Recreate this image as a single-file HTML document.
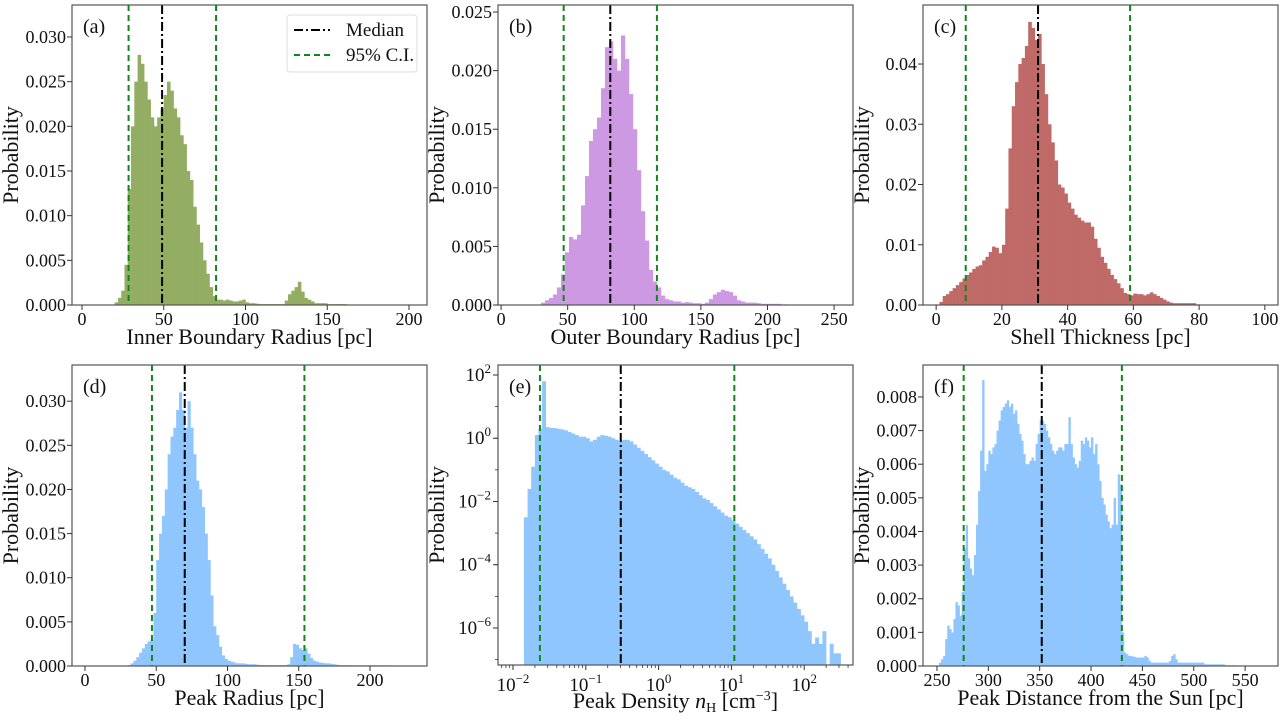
<!DOCTYPE html>
<html><head><meta charset="utf-8"><style>
html,body{margin:0;padding:0;background:#fff}
svg{display:block;font-family:"Liberation Serif",serif}
</style></head><body>
<svg id="fig" width="1285" height="722" viewBox="0 0 1285 722"></svg>
<script>
// ---- data (probabilities x0.001 unless noted) ----
const aStart = 20, aWidth = 2;
const aValues = [0.3,0.8,1.6,4.5,13,20,25,28,27,25,23,21,20,21,22,23.5,25,24,22,21,19,18,15,14,11,9,7,5,3.5,2,1,0.6,0.6,0.5,0.6,0.5,0.4,0.4,0.5,0.6,0.3,0.2,0.2,0.15,0.1,0.1,0.1,0.1,0.1,0.1,0.1,0.1,0.5,1.2,1.6,2.0,2.6,1.5,0.8,0.6,0.4,0.2,0.2,0.2,0.2,0.1,0.1,0.1,0.1,0.1,0.1,0.05,0.05,0.05,0.05,0.05,0.05];
const aLines = {median: 49, lo: 28.5, hi: 82};
const bStart = 30, bWidth = 3;
const bValues = [0.2,0.4,0.6,0.9,1.5,2.6,4.5,5.8,5.6,6.0,8.5,11,14,15,16,18.5,22,22.5,21,20,23,21,18,15,11.5,8,5.5,3,2,1.5,0.8,0.5,0.4,0.3,0.3,0.2,0.25,0.2,0.15,0.15,0.1,0.2,0.5,0.9,1.1,1.3,1.2,1.1,0.8,0.4,0.3,0.2,0.2,0.2,0.15,0.1,0.1,0.1,0.1,0.1,0.05,0.05,0.03];
const bLines = {median: 82, lo: 47, hi: 117};
const cStart = 1, cWidth = 1;
const cValues = [0.5,1.5,1.8,2.3,2.8,3.3,3.8,4.4,5,5.4,6,6.4,6.6,7.4,8,8.8,9.7,9.5,8.6,10,16,26,33,37,40,41,43,47,46,44,45,40,35,30,27,24,20,19.5,18.5,17,16,15,14.5,14,13.7,13.7,13,11,9.5,8,7,6,5,4.3,3.6,2.8,2,1.8,1.6,1.9,1.8,1.8,1.6,1.8,2.1,1.8,1.5,1.2,0.9,0.6,0.4,0.3,0.3,0.3,0.3,0.3,0.3,0.3,0.1,0.05];
const cLines = {median: 31, lo: 9, hi: 59};
const dStart = 30, dWidth = 2;
const dValues = [0.1,0.3,0.6,1,1.5,2,2.5,2.8,3,6,12,15,17,20,24,26,27,29,31,29,27,30,27,24,21,20,18,15,12,8,4.5,3.5,2.2,1.2,0.8,0.6,0.5,0.4,0.3,0.3,0.3,0.25,0.2,0.2,0.2,0.15,0.12,0.12,0.1,0.1,0.1,0.1,0.1,0.1,0.1,0.1,0.2,1,2.5,2.4,2.0,1.8,2.0,1.4,0.9,0.6,0.5,0.4,0.35,0.3,0.3,0.25,0.2,0.15,0.1,0.1,0.1,0.1,0.08,0.08,0.08,0.08,0.08,0.08,0.08,0.08,0.08,0.08,0.08,0.08,0.08,0.08];
const dLines = {median: 70, lo: 47, hi: 154};
// (e): log10 bins and log10 probability
const eStart = -1.85, eWidth = 0.05;
const eLogValues = [-2.5,-1.6,-0.9,0.1,0.3,1.8,0.35,0.33,0.32,0.3,0.28,0.25,0.2,0.15,0.1,0.05,0.05,0.0,-0.1,-0.05,0.05,0.1,0.08,0.05,0,-0.05,-0.1,-0.05,-0.05,-0.1,-0.2,-0.3,-0.4,-0.5,-0.6,-0.7,-0.8,-0.9,-1.0,-1.05,-1.15,-1.25,-1.3,-1.4,-1.5,-1.55,-1.6,-1.7,-1.8,-1.9,-1.95,-2.05,-2.15,-2.25,-2.35,-2.45,-2.5,-2.6,-2.7,-2.8,-2.9,-3.0,-3.1,-3.2,-3.35,-3.5,-3.65,-3.8,-4.0,-4.2,-4.4,-4.6,-4.8,-5.0,-5.2,-5.4,-5.6,-5.8,-6.1,-6.5,-6.3,-6.5,-6.1,-7.5,-6.5,-6.8,-6.8];
const eLines = {median: -0.52, lo: -1.63, hi: 1.04};
const fStart = 252, fWidth = 2;
const fValues = [0.1,0.2,0.3,0.8,1.2,1.1,1.0,1.4,1.9,1.8,1.5,2.2,3.5,4.2,3.2,2.9,2.7,3.3,4.2,5.2,6.4,8.5,5.8,6.0,6.4,6.3,6.5,6.6,7.0,7.3,7.6,7.7,7.8,7.9,7.7,7.8,7.5,7.6,7.2,6.9,6.7,6.3,6.0,6.0,6.1,6.2,6.1,6.6,6.9,7.3,7.3,7.2,7.0,6.8,6.6,6.4,6.3,6.4,6.5,6.5,6.4,6.6,6.6,7.4,6.6,6.2,6.0,5.9,6.1,6.7,6.6,6.8,6.7,6.5,6.8,6.3,6.6,6.0,5.5,5.0,4.8,4.5,4.3,4.1,4.2,5.0,4.2,5.7,5.4,1.0,0.4,0.35,0.3,0.3,0.28,0.27,0.25,0.25,0.25,0.25,0.3,0.25,0.15,0.1,0.1,0.1,0.1,0.1,0.1,0.1,0.1,0.1,0.15,0.3,0.35,0.2,0.1,0.1,0.1,0.1,0.1,0.1,0.1,0.1,0.1,0.1,0.1,0.1,0.1,0.05,0.05,0.05,0.05,0.05,0.05,0.05,0.05,0.05,0.05,0.02,0.02,0.02,0.02,0.02,0.02];
const fLines = {median: 352, lo: 276, hi: 430};

const aXTicks=[0,50,100,150,200], aYTicks=[0,5,10,15,20,25,30];
const bXTicks=[0,50,100,150,200,250], bYTicks=[0,5,10,15,20,25];
const cXTicks=[0,20,40,60,80,100], cYTicks=[0,10,20,30,40];
const dXTicks=[0,50,100,150,200], dYTicks=[0,5,10,15,20,25,30];
const eXTicks=[-2,-1,0,1,2], eYTicks=[-6,-4,-2,0,2];
const fXTicks=[250,300,350,400,450,500,550], fYTicks=[0,1,2,3,4,5,6,7,8];

const NS="http://www.w3.org/2000/svg";
const svg=document.getElementById('fig');
function mk(tag,attrs,parent){const e=document.createElementNS(NS,tag);for(const k in attrs)e.setAttribute(k,attrs[k]);(parent||svg).appendChild(e);return e;}

const panels=[
 {id:'a',L:72,R:427,T:5,B:305,x0:-6.1,x1:211,y0:0,y1:33.58,start:aStart,w:aWidth,vals:aValues,lines:aLines,xt:aXTicks,yt:aYTicks,yfmt:v=>(v/1000).toFixed(3),color:'#93ad62',xlabel:'Inner Boundary Radius [pc]'},
 {id:'b',L:498,R:853,T:5,B:305,x0:-2.3,x1:264.2,y0:0,y1:25.6,start:bStart,w:bWidth,vals:bValues,lines:bLines,xt:bXTicks,yt:bYTicks,yfmt:v=>(v/1000).toFixed(3),color:'#cc99e2',xlabel:'Outer Boundary Radius [pc]'},
 {id:'c',L:923,R:1278,T:5,B:305,x0:-4,x1:104,y0:0,y1:49.8,start:cStart,w:cWidth,vals:cValues,lines:cLines,xt:cXTicks,yt:cYTicks,yfmt:v=>(v/1000).toFixed(2),color:'#bf6a67',xlabel:'Shell Thickness [pc]'},
 {id:'d',L:72,R:427,T:365,B:666,x0:-9.1,x1:240,y0:0,y1:34.1,start:dStart,w:dWidth,vals:dValues,lines:dLines,xt:dXTicks,yt:dYTicks,yfmt:v=>(v/1000).toFixed(3),color:'#8fc6fd',xlabel:'Peak Radius [pc]'},
 {id:'e',L:498,R:853,T:365,B:665,x0:-2.206,x1:2.67,y0:-7.17,y1:2.316,start:eStart,w:eWidth,vals:eLogValues,lines:eLines,xt:eXTicks,yt:eYTicks,log:true,color:'#8fc6fd'},
 {id:'f',L:923,R:1278,T:365,B:666,x0:236.4,x1:582,y0:0,y1:8.95,start:fStart,w:fWidth,vals:fValues,lines:fLines,xt:fXTicks,yt:fYTicks,yfmt:v=>(v/1000).toFixed(3),color:'#8fc6fd',xlabel:'Peak Distance from the Sun [pc]'}
];

panels.forEach(p=>{
  const g=mk('g',{});
  
  
  const X=v=>p.L+(v-p.x0)/(p.x1-p.x0)*(p.R-p.L);
  const Y=v=>p.B-(v-p.y0)/(p.y1-p.y0)*(p.B-p.T);
  const bars=mk('g',{fill:p.color},g);
  
  
  p.vals.forEach((v,i)=>{
    const xa=X(p.start+i*p.w), xb=X(p.start+(i+1)*p.w);
    const yv=Math.min(Math.max(Y(v),p.T),p.B);
    if(yv>=p.B) return;
    const r=mk('rect',{x:xa,y:yv,width:xb-xa+0.3,height:p.B-yv},bars);
    
    
  });
  [['lo','#11861a','6,4'],['hi','#11861a','6,4'],['median','#000','9,3,2,3']].forEach(([k,c,d])=>{
    const x=X(p.lines[k]);
    const l=mk('line',{x1:x,x2:x,y1:p.T,y2:p.B,stroke:c,'stroke-width':2,'stroke-dasharray':d},g);
    
    
  });
  const fr=mk('rect',{x:p.L,y:p.T,width:p.R-p.L,height:p.B-p.T,fill:'none',stroke:'#555','stroke-width':1.2},g);
  
  
  p.xt.forEach(t=>{
    const x=X(t);
    mk('line',{x1:x,x2:x,y1:p.B,y2:p.B+5,stroke:'#333','stroke-width':1},g);
    let tx;
    if(p.log){
      tx=mk('text',{x:x,y:p.B+26,'text-anchor':'middle','font-size':19,fill:'#111'},g);
      tx.innerHTML='10<tspan dy="-8" font-size="13">'+(t<0?'−':'')+Math.abs(t)+'</tspan>';
    } else {
      tx=mk('text',{x:x,y:p.B+20,'text-anchor':'middle','font-size':18,fill:'#111'},g);
      tx.textContent=t;
    }
    
    
  });
  if(p.log){
    for(let d=-3;d<=2;d++)for(let m=2;m<10;m++){const lv=d+Math.log10(m);if(lv>p.x0&&lv<p.x1){const x=X(lv);mk('line',{x1:x,x2:x,y1:p.B,y2:p.B+3,stroke:'#333','stroke-width':0.8},g);}}
    for(let d=-8;d<=2;d++){if(d>p.y0&&d<p.y1){const y=Y(d);mk('line',{x1:p.L-3,x2:p.L,y1:y,y2:y,stroke:'#333','stroke-width':0.8},g);}}
  }
  p.yt.forEach(t=>{
    const y=Y(t);
    mk('line',{x1:p.L-5,x2:p.L,y1:y,y2:y,stroke:'#333','stroke-width':1},g);
    let tx;
    if(p.log){
      tx=mk('text',{x:p.L-7,y:y+6,'text-anchor':'end','font-size':19,fill:'#111'},g);
      tx.innerHTML='10<tspan dy="-8" font-size="13">'+(t<0?'−':'')+Math.abs(t)+'</tspan>';
    } else {
      tx=mk('text',{x:p.L-6,y:y+6,'text-anchor':'end','font-size':18,fill:'#111'},g);
      tx.textContent=p.yfmt(t);
    }
    
    
  });
  const xl=mk('text',{x:(p.L+p.R)/2,y:p.B+(p.log?43:39),'text-anchor':'middle','font-size':22,fill:'#111'},g);
  if(p.log){xl.innerHTML='Peak Density <tspan font-style="italic">n</tspan><tspan font-size="14" dy="4">H</tspan><tspan dy="-4"> [cm</tspan><tspan dy="-8" font-size="14">−3</tspan><tspan dy="8">]</tspan>';}
  else xl.textContent=p.xlabel;
  
  
  const yx=p.L-54, yy=(p.T+p.B)/2;
  const yl=mk('text',{x:yx,y:yy,'text-anchor':'middle','font-size':22,fill:'#111',transform:`rotate(-90 ${yx} ${yy})`},g);
  yl.textContent='Probability';
  
  
  const pl=mk('text',{x:p.L+11,y:p.T+28,'font-size':20,fill:'#111'},g);
  pl.textContent='('+p.id+')';
  
  
});
const lg=mk('g',{});


mk('rect',{x:287,y:15,width:130,height:57,rx:3,fill:'#fff','fill-opacity':0.85,stroke:'#ddd'},lg);
mk('line',{x1:294,x2:330,y1:30,y2:30,stroke:'#000','stroke-width':2,'stroke-dasharray':'9,3,2,3'},lg);
const t1=mk('text',{x:346,y:36,'font-size':19,fill:'#111'},lg);t1.textContent='Median';


mk('line',{x1:294,x2:330,y1:55,y2:55,stroke:'#11861a','stroke-width':2,'stroke-dasharray':'6,4'},lg);
const t2=mk('text',{x:346,y:61,'font-size':19,fill:'#111'},lg);t2.textContent='95% C.I.';


</script>
</body></html>
